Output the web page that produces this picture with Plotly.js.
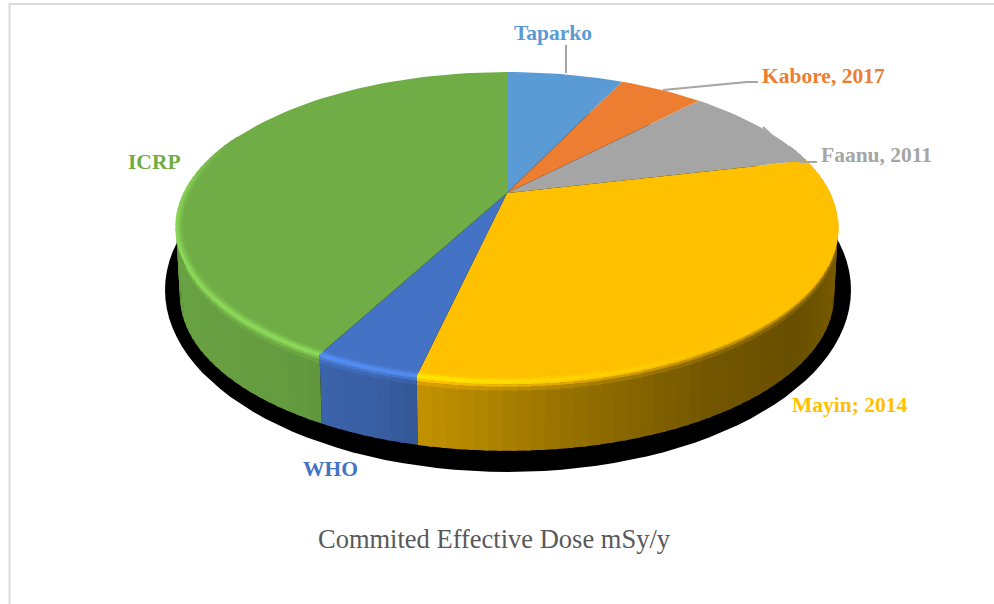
<!DOCTYPE html>
<html><head><meta charset="utf-8">
<script src="https://cdn.plot.ly/plotly-3.0.1.min.js"></script>
<style>html,body{margin:0;padding:0;background:#fff}</style></head>
<body><div id="chart" style="width:994px;height:604px"></div>
<script>
const categories = ["Taparko","Kabore, 2017","Faanu, 2011","Mayin; 2014","WHO","ICRP"];
const doses = [0.166,0.12,0.218,0.763,0.1,1.0];
const colors = ["#5B9BD5","#ED7D31","#A5A5A5","#FFC000","#4472C4","#70AD47"];
const chartTitle = "Commited Effective Dose mSy/y";

// View geometry of the tilted disc (pixel-based axis space)
const CX=507, CY=193, K=0.219, A=147.5, B=323, DEPTH=69;
const rad=d=>d*Math.PI/180;
function proj(th,r,z){
  const u=r*Math.sin(rad(th)), v=r*Math.cos(rad(th)), s=1/(1+K*v);
  return [CX+B*u*s*(1-0.012*z/DEPTH), CY-A*v*s+z];
}
function hex(c){return [1,3,5].map(i=>parseInt(c.substr(i,2),16));}
function rgb(a){return "rgb("+a.map(x=>Math.round(Math.max(0,Math.min(255,x)))).join(",")+")";}
function mix(a,b,t){return a.map((x,i)=>x+(b[i]-x)*t);}
function table(t,th){
  th=((th%360)+360)%360;
  if(th<=t[0][0])return t[0][1];
  for(let i=1;i<t.length;i++) if(th<=t[i][0]){
    const f=(th-t[i-1][0])/(t[i][0]-t[i-1][0]);
    return t[i-1][1]+(t[i][1]-t[i-1][1])*f;
  }
  return t[t.length-1][1];
}
const wallShade=[[75,.66],[100,.5],[130,.41],[150,.45],[170,.58],[192,.76],[200,.84],[215,.9],[250,.94],[275,.92]];
const glow=[[100,0],[150,.02],[190,.25],[210,.3],[250,.3],[275,.22],[292,0]];

const total=doses.reduce((a,b)=>a+b,0);
const traces=[];
function poly(pts,color,name,opts){
  traces.push(Object.assign({type:"scatter",mode:"lines",x:pts.map(p=>p[0]),y:pts.map(p=>p[1]),
    fill:"toself",fillcolor:color,line:{color:color,width:0},hoverinfo:"skip",showlegend:false,name:name},opts||{}));
}
// cast shadow, an ellipse beneath the disc
(function(){
  const p=[];
  for(let a=0;a<=360;a+=3)p.push([508+343*Math.cos(rad(a)),290+182*Math.sin(rad(a))]);
  poly(p,"#000000","shadow");
})();

const spans=[];let acc=0;
doses.forEach(d=>{const s=acc;acc+=d;spans.push([s/total*360,acc/total*360]);});

// side wall and bevel; each strip overlaps the next so no seams show
const STEP=2, OVER=0.6;
const bands=[[0,.98,.987],[1,.987,.994],[2,.994,1.0]];
spans.forEach((sp,i)=>{
  const face=hex(colors[i]);
  let th=Math.max(sp[0],70);
  while(th<sp[1]-1e-6 && th<290){
    const t2=Math.min(th+STEP,sp[1]), tm=(th+t2)/2, te=Math.min(t2+OVER,sp[1]);
    const wall=mix([0,0,0],face,table(wallShade,tm));
    const top=face.map(x=>x*(1+table(glow,tm)));
    const zs=[-0.5,2.5,5,8.5,DEPTH];
    poly([proj(th,1,zs[3]),proj(te,1,zs[3]),proj(te,1,DEPTH),proj(th,1,DEPTH)],rgb(wall),categories[i]);
    for(let b=0;b<3;b++){
      const c=mix(top,wall,(b+0.5)/3);
      poly([proj(th,1,zs[b]),proj(te,1,zs[b]),proj(te,1,zs[b+1]+.5),proj(th,1,zs[b+1]+.5)],rgb(c),categories[i]);
    }
    th=t2;
  }
});
// top faces
spans.forEach((sp,i)=>{
  const p=[proj(0,0,0)];
  const n=Math.ceil((sp[1]-sp[0])/2);
  for(let j=0;j<=n;j++)p.push(proj(sp[0]+(sp[1]-sp[0])*j/n,1,0));
  p.push(proj(0,0,0));
  poly(p,colors[i],categories[i],{hoverinfo:"name"});
});
// rim highlight on the top face
spans.forEach((sp,i)=>{
  const face=hex(colors[i]);
  let th=Math.max(sp[0],100);
  while(th<sp[1]-1e-6 && th<292){
    const t2=Math.min(th+STEP,sp[1]), tm=(th+t2)/2, te=Math.min(t2+OVER,sp[1]);
    const top=face.map(x=>x*(1+table(glow,tm)));
    bands.forEach(b=>{
      const c=mix(face,top,(b[0]+0.5)/3);
      poly([proj(th,b[1],0),proj(te,b[1],0),proj(te,b[2]+.002,0),proj(th,b[2]+.002,0)],rgb(c),categories[i]);
    });
    th=t2;
  }
});

const labelPos=[[553,33],[823,76],[876,155],[850,405],[330,469],[154,162]];
const annotations=categories.map((c,i)=>({
  text:"<b>"+c+"</b>",xref:"x",yref:"y",x:labelPos[i][0],y:labelPos[i][1],showarrow:false,
  xanchor:"center",yanchor:"middle",
  font:{family:"Liberation Serif",size:21.5,color:colors[i]}
}));
function leader(path){return {type:"path",xref:"x",yref:"y",path:path,line:{color:"#A5A5A5",width:2},layer:"above"};}
const shapes=[
  leader("M566,45 L566,73"),
  leader("M758,82 L747,82 L663,90"),
  leader("M817,162 L800,162 L763,127"),
  {type:"path",xref:"x",yref:"y",path:"M9.5,604 L9.5,4 L994,4",line:{color:"#D9D9D9",width:2},layer:"below"}
];
Plotly.newPlot("chart",traces,{
  width:994,height:604,margin:{l:0,r:0,t:0,b:0},
  paper_bgcolor:"#ffffff",plot_bgcolor:"#ffffff",showlegend:false,
  xaxis:{range:[0,994],visible:false,fixedrange:true},
  yaxis:{range:[604,0],visible:false,fixedrange:true},
  title:{text:chartTitle,x:494/994,y:1-539/604,xanchor:"center",yanchor:"middle",
    font:{family:"Liberation Serif",size:26.5,color:"#595959"}},
  annotations:annotations,shapes:shapes
},{displayModeBar:false,staticPlot:true});
</script></body></html>
